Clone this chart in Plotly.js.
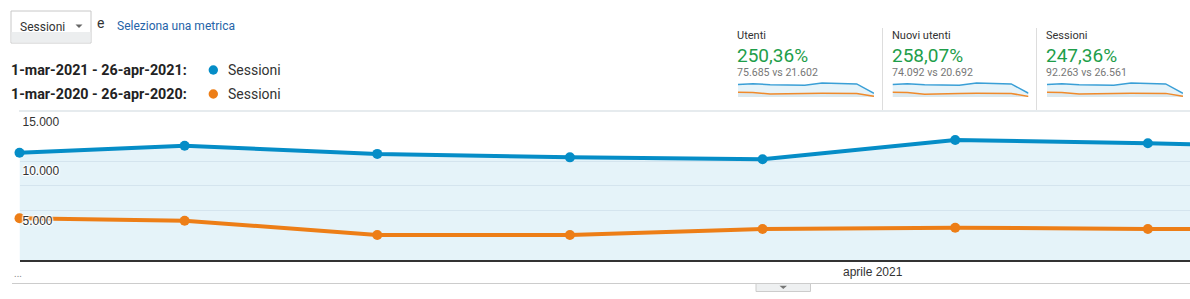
<!DOCTYPE html>
<html><head><meta charset="utf-8">
<script src="https://cdn.plot.ly/plotly-3.0.1.min.js"></script>
<style>html,body{margin:0;padding:0;background:#fff;overflow:hidden}#chart{width:1190px;height:299px}</style>
</head><body><div id="chart"></div>
<script>
// ---- data ----
const weeks = ['2021-03-01','2021-03-07','2021-03-14','2021-03-21','2021-03-28','2021-04-04','2021-04-11','2021-04-18','2021-04-25'];
const sessions2021 = [10860, 11570, 10740, 10390, 10190, 12150, 11810, 11340, 3210];
const sessions2020 = [4220, 3980, 2530, 2530, 3140, 3270, 3140, 3140, 611];
const users2021 = [8900, 9480, 8800, 8520, 8360, 9960, 9690, 9300, 2670];
const users2020 = [3440, 3240, 2060, 2060, 2550, 2660, 2550, 2550, 490];
const newUsers2021 = [8720, 9290, 8610, 8340, 8170, 9750, 9480, 9110, 2620];
const newUsers2020 = [3300, 3110, 1980, 1980, 2450, 2550, 2450, 2450, 420];

const yTickVals = [5000, 7500, 10000, 15000];
const yTickText = ['5.000', '', '10.000', '15.000'];
const xTickVals = ['2021-04-01'];
const xTickText = ['aprile 2021'];

const metricNames = ['Utenti', 'Nuovi utenti', 'Sessioni'];
const metricPct = ['250,36%', '258,07%', '247,36%'];
const metricTotals = ['75.685 vs 21.602', '74.092 vs 20.692', '92.263 vs 26.561'];
const sparkCurrent = [users2021, newUsers2021, sessions2021];
const sparkPrevious = [users2020, newUsers2020, sessions2020];

const range1Label = '1-mar-2021 - 26-apr-2021:';
const range2Label = '1-mar-2020 - 26-apr-2020:';
const seriesName = 'Sessioni';
const metricSelect = 'Sessioni';
const joinWord = 'e';
const selectLink = 'Seleziona una metrica';

// ---- layout helpers ----
const W = 1190, H = 299;
const X = p => p / W;
const Y = p => 1 - p / H;
const BLUE = '#058DC7', ORANGE = '#ED7E17';
const FONT = 'Roboto, Arial, sans-serif';

const traces = [
  {x: weeks, y: sessions2021, type: 'scatter', mode: 'lines+markers', xaxis: 'x', yaxis: 'y',
   line: {color: BLUE, width: 4}, marker: {color: BLUE, size: 10},
   fill: 'tozeroy', fillcolor: 'rgba(5,141,199,0.105)', cliponaxis: false, hoverinfo: 'skip'},
  {x: weeks, y: sessions2020, type: 'scatter', mode: 'lines+markers', xaxis: 'x', yaxis: 'y',
   line: {color: ORANGE, width: 4}, marker: {color: ORANGE, size: 10}, cliponaxis: false, hoverinfo: 'skip'}
];

const layout = {
  width: W, height: H, margin: {l: 0, r: 0, t: 0, b: 0},
  paper_bgcolor: '#fff', plot_bgcolor: 'rgba(0,0,0,0)', showlegend: false,
  font: {family: FONT, color: '#333'},
  xaxis: {type: 'date', domain: [X(19.5), 1], range: ['2021-03-01', '2021-04-12 12:45'],
    showgrid: false, zeroline: false, showline: true, linecolor: '#333', linewidth: 1.5,
    tickvals: xTickVals, ticktext: xTickText, ticks: '', tickfont: {size: 12, color: '#333', family: 'Arial, sans-serif'},
    fixedrange: true},
  yaxis: {domain: [Y(260), Y(111)], range: [0, 15081], showline: false, zeroline: false,
    showgrid: true, gridcolor: '#eceff3', gridwidth: 1,
    tickvals: yTickVals, ticktext: yTickText, ticks: '', ticklabelposition: 'inside',
    ticklabelshift: 10, ticklabelstandoff: 0,
    tickfont: {size: 12, color: '#333', family: 'Arial, sans-serif', shadow: '1px 1px 1px #fff, -1px -1px 1px #fff, 1px -1px 1px #fff, -1px 1px 1px #fff'},
    fixedrange: true},
  shapes: [], annotations: []
};

// sparkline subplots
for (let i = 0; i < 3; i++) {
  const n = i + 2, x0 = 738 + 154.5 * i;
  const cur = sparkCurrent[i], prev = sparkPrevious[i];
  layout['xaxis' + n] = {type: 'date', domain: [X(x0), X(x0 + 136)], range: [weeks[0], weeks[weeks.length - 1]],
    visible: false, anchor: 'y' + n, fixedrange: true};
  layout['yaxis' + n] = {domain: [Y(97), Y(81)], range: [0, Math.max(...cur) * 1.143], visible: false, anchor: 'x' + n, fixedrange: true};
  traces.push({x: weeks, y: cur, type: 'scatter', mode: 'lines', xaxis: 'x' + n, yaxis: 'y' + n,
    line: {color: '#3a9fd6', width: 1.5}, fill: 'tozeroy', fillcolor: 'rgba(5,141,199,0.1)', hoverinfo: 'skip'});
  traces.push({x: weeks, y: prev, type: 'scatter', mode: 'lines', xaxis: 'x' + n, yaxis: 'y' + n,
    line: {color: '#F08A2B', width: 1.5}, fill: 'tozeroy', fillcolor: 'rgba(120,120,120,0.08)', hoverinfo: 'skip'});

  const tx = x0 - 3;
  layout.annotations.push(
    {text: metricNames[i], xref: 'paper', yref: 'paper', x: X(tx), y: Y(35), xanchor: 'left', yanchor: 'middle', showarrow: false, font: {size: 11, color: '#333', family: FONT}},
    {text: metricPct[i], xref: 'paper', yref: 'paper', x: X(tx), y: Y(56), xanchor: 'left', yanchor: 'middle', showarrow: false, font: {size: 19, color: '#1e9e4a', family: FONT}},
    {text: metricTotals[i], xref: 'paper', yref: 'paper', x: X(tx), y: Y(72.5), xanchor: 'left', yanchor: 'middle', showarrow: false, font: {size: 10.6, color: '#777', family: FONT}}
  );
}

// header decorations
layout.shapes.push(
  {type: 'rect', xref: 'paper', yref: 'paper', x0: X(11), x1: X(91), y0: Y(43), y1: Y(11), fillcolor: '#fff', line: {color: '#c8c8c8', width: 1}, layer: 'below'},
  {type: 'rect', xref: 'paper', yref: 'paper', x0: X(11.5), x1: X(90.5), y0: Y(42.5), y1: Y(32), fillcolor: '#eceeef', line: {width: 0}, layer: 'below'},
  {type: 'path', xref: 'paper', yref: 'paper', path: `M ${X(75.5)},${Y(24.5)} L ${X(82.5)},${Y(24.5)} L ${X(79)},${Y(28)} Z`, fillcolor: '#666', line: {width: 0}},
  {type: 'circle', xref: 'paper', yref: 'paper', x0: X(208.6), x1: X(218), y0: Y(74.7), y1: Y(65.3), fillcolor: BLUE, line: {width: 0}},
  {type: 'circle', xref: 'paper', yref: 'paper', x0: X(208.6), x1: X(218), y0: Y(98.7), y1: Y(89.3), fillcolor: ORANGE, line: {width: 0}},
  // panel separators
  {type: 'line', xref: 'paper', yref: 'paper', x0: X(882.5), x1: X(882.5), y0: Y(110), y1: Y(28), line: {color: '#dddddd', width: 1}},
  {type: 'line', xref: 'paper', yref: 'paper', x0: X(1036.5), x1: X(1036.5), y0: Y(110), y1: Y(28), line: {color: '#dddddd', width: 1}},
  // top border of plot
  {type: 'line', xref: 'paper', yref: 'paper', x0: X(19), x1: 1, y0: Y(111), y1: Y(111), line: {color: '#e6ebee', width: 2}},
  // bottom separator and tab
  {type: 'line', xref: 'paper', yref: 'paper', x0: X(12), x1: 1, y0: Y(283.5), y1: Y(283.5), line: {color: '#cccccc', width: 1}},
  {type: 'rect', xref: 'paper', yref: 'paper', x0: X(756), x1: X(810.5), y0: Y(291.5), y1: Y(283.5), fillcolor: '#eef0f1', line: {color: '#cccccc', width: 1}},
  {type: 'path', xref: 'paper', yref: 'paper', path: `M ${X(779.5)},${Y(285.8)} L ${X(787)},${Y(285.8)} L ${X(783.25)},${Y(289)} Z`, fillcolor: '#777', line: {width: 0}}
);

layout.annotations.push(
  {text: metricSelect, xref: 'paper', yref: 'paper', x: X(18), y: Y(26.5), xanchor: 'left', yanchor: 'middle', showarrow: false, font: {size: 12, color: '#333', family: FONT}},
  {text: joinWord, xref: 'paper', yref: 'paper', x: X(95), y: Y(23), xanchor: 'left', yanchor: 'middle', showarrow: false, font: {size: 14, color: '#333', family: FONT}},
  {text: selectLink, xref: 'paper', yref: 'paper', x: X(115), y: Y(26), xanchor: 'left', yanchor: 'middle', showarrow: false, font: {size: 12, color: '#2563a8', family: FONT}},
  {text: '<b>' + range1Label + '</b>', xref: 'paper', yref: 'paper', x: X(9), y: Y(70), xanchor: 'left', yanchor: 'middle', showarrow: false, font: {size: 14.3, color: '#222', family: FONT}},
  {text: '<b>' + range2Label + '</b>', xref: 'paper', yref: 'paper', x: X(9), y: Y(94), xanchor: 'left', yanchor: 'middle', showarrow: false, font: {size: 14.3, color: '#222', family: FONT}},
  {text: seriesName, xref: 'paper', yref: 'paper', x: X(226), y: Y(70), xanchor: 'left', yanchor: 'middle', showarrow: false, font: {size: 14, color: '#333', family: FONT}},
  {text: seriesName, xref: 'paper', yref: 'paper', x: X(226), y: Y(94), xanchor: 'left', yanchor: 'middle', showarrow: false, font: {size: 14, color: '#333', family: FONT}},
  {text: '...', xref: 'paper', yref: 'paper', x: X(12), y: Y(273), xanchor: 'left', yanchor: 'middle', showarrow: false, font: {size: 10, color: '#888', family: FONT}}
);

Plotly.newPlot('chart', traces, layout, {staticPlot: true, displayModeBar: false});
</script></body></html>
